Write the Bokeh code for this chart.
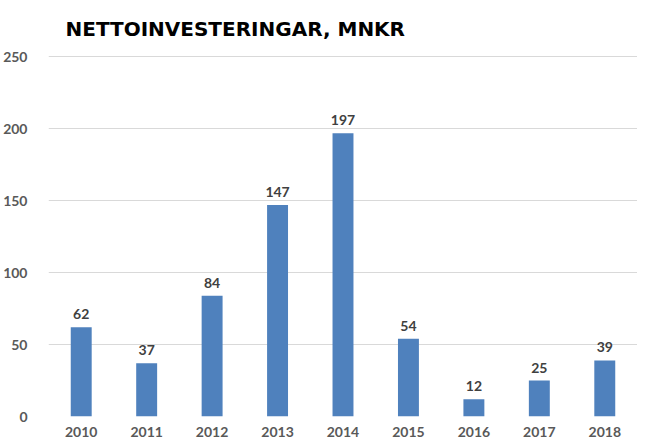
from bokeh.plotting import figure
from bokeh.models import Range1d, FactorRange, ColumnDataSource, SingleIntervalTicker
from bokeh.core.properties import value
from bokeh.embed import file_html
from bokeh.resources import INLINE

years = ["2010", "2011", "2012", "2013", "2014", "2015", "2016", "2017", "2018"]
values = [62, 37, 84, 147, 197, 54, 12, 25, 39]
labels = [str(v) for v in values]
title_text = "NETTOINVESTERINGAR, MNKR"

src = ColumnDataSource(dict(x=years, top=values, label=labels))

p = figure(width=637, height=439, x_range=FactorRange(factors=years),
           y_range=Range1d(0, 251), output_backend="svg", toolbar_location=None,
           min_border_left=43, min_border_right=0, min_border_bottom=10, min_border_top=10)

p.title.text = title_text
p.title.text_font = "DejaVu Sans"
p.title.text_font_size = "20px"
p.title.text_font_style = "bold"
p.title.text_color = "#000000"
p.title.offset = 17
p.title.standoff = 29

p.vbar(x="x", top="top", width=0.32, source=src, fill_color="#4f81bd", line_color=None)
p.text(x="x", y="top", text="label", source=src, text_align="center", text_baseline="alphabetic",
       y_offset=-13, text_font=value("Lato"), text_font_style="bold", text_font_size="14px",
       text_color="#404040")

p.outline_line_color = None
p.xgrid.grid_line_color = None
p.ygrid.grid_line_color = "#d9d9d9"
p.ygrid.grid_line_width = 1
p.yaxis.ticker = SingleIntervalTicker(interval=50)
for ax in (p.xaxis[0], p.yaxis[0]):
    ax.axis_line_color = None
    ax.major_tick_line_color = None
    ax.minor_tick_line_color = None
    ax.major_label_text_font = "Lato"
    ax.major_label_text_font_style = "bold"
    ax.major_label_text_font_size = "14px"
    ax.major_label_text_color = "#595959"
p.yaxis.major_label_standoff = 15
p.xaxis.major_label_standoff = 4

open("out.html", "w").write(file_html(p, INLINE))
